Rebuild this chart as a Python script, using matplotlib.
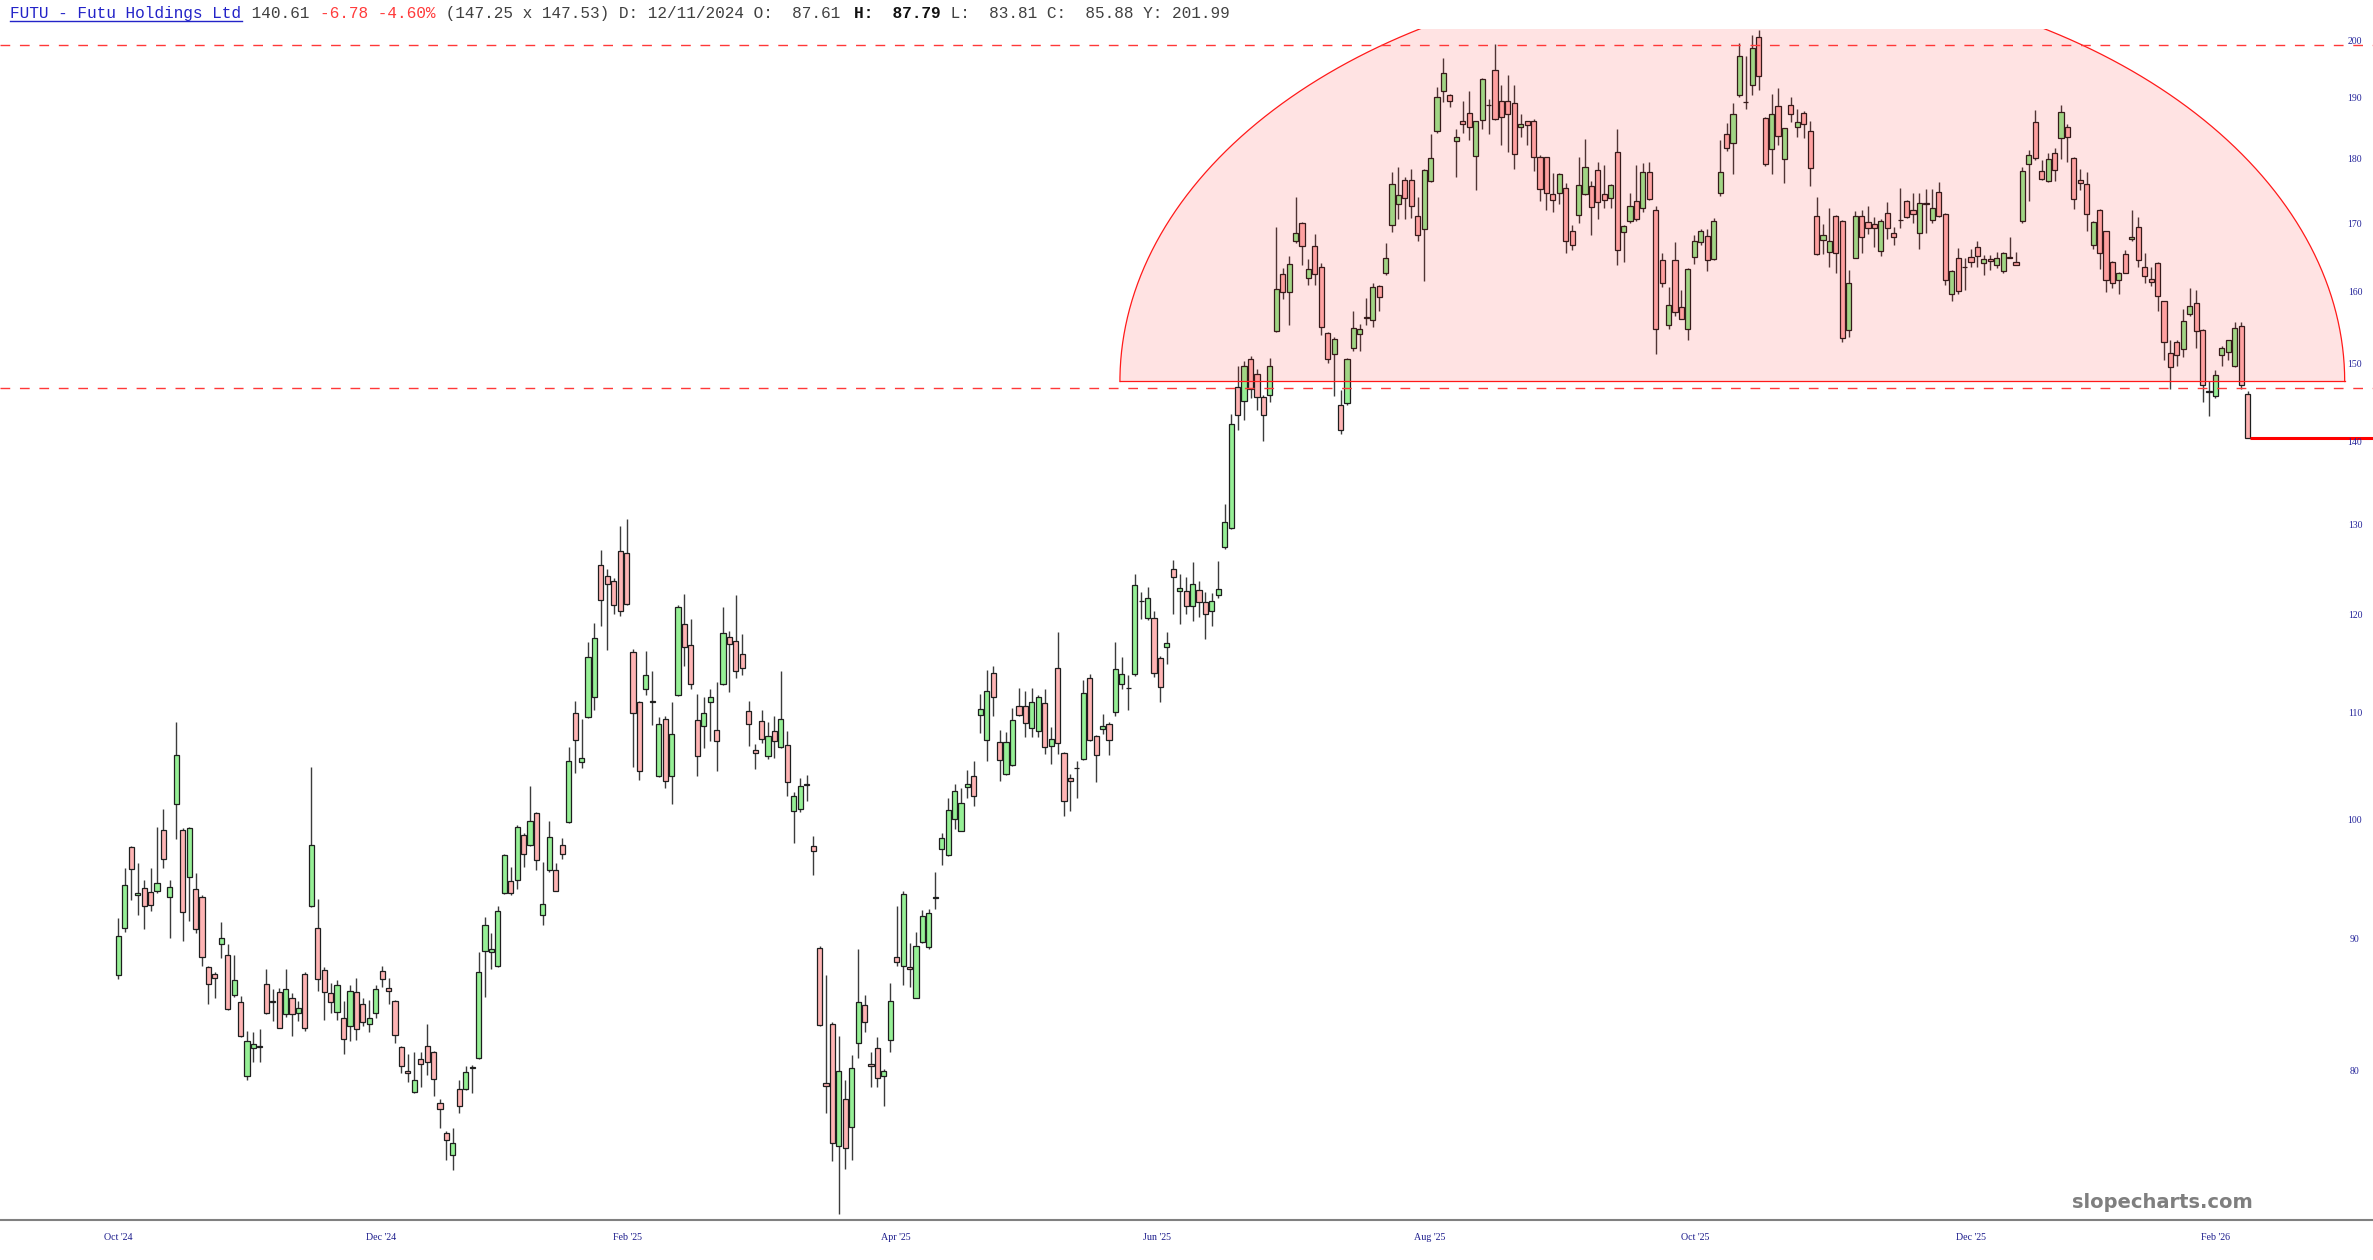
import numpy as np
import matplotlib
matplotlib.use("Agg")
import matplotlib.pyplot as plt
from matplotlib.transforms import blended_transform_factory
from matplotlib.lines import Line2D

# ---------------- data ----------------
opens = [
    87.2, 90.9, 97.7, 93.6, 94.2, 93.9, 94.0, 99.2, 93.5, 101.5,
    99.2, 95.1, 94.1, 93.5, 87.8, 87.3, 89.6, 88.8, 85.7, 85.1,
    79.7, 81.7, 81.9, 86.5, 85.2, 85.9, 84.2, 85.4, 84.3, 87.3,
    92.7, 90.9, 87.61, 85.8, 84.4, 83.9, 83.3, 85.9, 85.0, 83.5,
    84.3, 87.5, 86.2, 85.2, 81.8, 80.1, 78.6, 80.9, 81.9, 81.4,
    77.8, 75.8, 74.3, 78.8, 78.8, 80.3, 81.0, 89.1, 89.0, 87.9,
    93.8, 94.8, 94.9, 98.8, 97.9, 100.7, 92.0, 95.7, 95.7, 97.9,
    99.9, 110.1, 105.4, 109.7, 111.6, 125.5, 124.3, 123.8, 127.1, 126.9,
    116.2, 111.2, 112.4, 111.2, 104.1, 109.5, 104.1, 111.8, 119.1, 116.9,
    109.4, 108.8, 111.2, 108.4, 112.9, 117.8, 117.3, 116.0, 110.3, 106.5,
    109.3, 105.9, 108.3, 106.8, 107.0, 100.9, 101.1, 103.3, 97.8, 89.3,
    79.2, 83.5, 74.9, 78.1, 76.2, 82.1, 84.9, 80.6, 81.7, 79.7,
    82.3, 88.6, 87.9, 87.8, 85.4, 89.8, 89.4, 93.4, 97.5, 97.0,
    100.2, 99.1, 103.1, 104.1, 109.9, 107.5, 114.1, 107.3, 104.3, 105.1,
    110.8, 110.8, 108.6, 108.3, 111.1, 106.9, 114.6, 106.2, 103.9, 104.8,
    105.7, 113.6, 107.8, 108.5, 109.0, 110.2, 112.9, 112.5, 114.0, 121.6,
    119.8, 119.8, 115.6, 116.7, 125.1, 122.7, 122.7, 121.1, 122.8, 121.5,
    120.5, 122.2, 127.6, 129.7, 147.1, 145.2, 150.8, 148.8, 145.8, 146.0,
    154.6, 162.6, 160.0, 167.4, 170.1, 162.0, 166.7, 163.6, 154.3, 151.5,
    144.8, 145.0, 152.3, 154.2, 156.4, 156.1, 160.9, 162.7, 169.8, 173.0,
    176.8, 176.8, 171.2, 169.2, 176.6, 184.7, 191.4, 190.6, 183.0, 186.3,
    187.6, 180.6, 186.5, 189.0, 195.0, 189.6, 189.6, 189.3, 185.4, 186.3,
    186.4, 180.4, 180.4, 174.6, 174.7, 175.5, 168.9, 171.4, 174.6, 175.9,
    178.4, 174.6, 174.0, 181.2, 168.8, 170.4, 173.6, 172.5, 178.0, 172.1,
    164.6, 155.4, 164.7, 157.9, 154.9, 165.1, 167.3, 168.2, 164.8, 174.7,
    184.2, 182.7, 190.7, 189.5, 192.4, 200.7, 186.8, 181.8, 188.8, 180.2,
    189.0, 185.3, 187.7, 184.7, 171.3, 167.6, 165.9, 171.3, 170.4, 154.7,
    165.0, 171.3, 170.3, 170.0, 166.0, 171.7, 168.7, 170.6, 173.6, 172.1,
    168.6, 173.1, 170.6, 174.9, 171.6, 159.8, 165.0, 163.6, 165.1, 166.6,
    164.2, 164.8, 164.0, 163.1, 165.0, 164.4, 170.4, 179.3, 186.2, 178.2,
    176.6, 181.1, 183.6, 185.3, 180.3, 176.8, 176.2, 166.8, 172.2, 168.9,
    164.4, 161.7, 165.5, 167.7, 169.6, 163.7, 161.9, 164.2, 158.7, 151.6,
    153.1, 152.1, 156.9, 158.5, 154.7, 146.5, 145.9, 151.3, 151.7, 149.9,
    155.3, 146.2,
]
highs = [
    91.7, 95.9, 97.8, 96.3, 94.9, 95.9, 99.5, 101.1, 94.9, 109.2,
    99.4, 99.5, 95.5, 93.6, 87.9, 87.4, 91.4, 89.6, 88.8, 85.6,
    83.0, 82.9, 83.1, 87.7, 86.1, 86.2, 87.7, 85.8, 85.2, 87.4,
    104.9, 93.3, 87.79, 86.6, 86.8, 85.2, 86.4, 87.0, 85.4, 85.3,
    86.4, 87.9, 87.0, 85.3, 81.9, 81.3, 81.4, 81.4, 83.5, 81.5,
    78.1, 75.9, 76.1, 79.4, 80.4, 80.5, 89.0, 91.8, 90.5, 92.7,
    97.1, 96.0, 99.6, 98.9, 103.2, 100.8, 96.4, 100.0, 96.3, 98.5,
    106.8, 111.3, 109.5, 117.2, 119.2, 127.2, 125.1, 124.1, 130.0, 130.8,
    116.5, 111.3, 116.3, 114.3, 109.7, 109.8, 111.2, 121.2, 122.4, 119.7,
    111.9, 111.6, 112.4, 113.1, 120.9, 118.4, 122.3, 118.1, 111.3, 107.1,
    110.4, 109.2, 109.8, 114.3, 108.3, 102.6, 103.9, 104.2, 98.7, 89.5,
    87.2, 83.6, 82.6, 79.4, 81.2, 89.2, 85.7, 81.4, 82.5, 80.2,
    86.6, 92.7, 94.0, 89.7, 90.6, 92.4, 92.5, 95.6, 98.9, 102.1,
    103.3, 103.0, 104.6, 105.5, 111.9, 114.4, 114.8, 108.4, 108.2, 110.6,
    112.5, 112.2, 112.5, 111.8, 112.4, 108.7, 118.3, 106.3, 104.3, 105.5,
    113.3, 114.0, 107.9, 110.0, 109.2, 117.2, 115.7, 113.9, 124.5, 122.6,
    123.1, 120.5, 115.8, 118.3, 126.1, 124.5, 124.2, 125.9, 123.8, 122.6,
    122.5, 126.0, 132.5, 143.6, 149.8, 150.5, 151.2, 149.4, 146.0, 150.9,
    169.5, 163.5, 165.3, 174.2, 170.3, 164.8, 168.5, 164.2, 154.5, 153.7,
    146.7, 150.9, 157.4, 155.5, 159.2, 161.3, 161.1, 167.2, 178.1, 178.9,
    177.2, 178.5, 174.1, 178.5, 184.2, 192.1, 197.0, 190.9, 185.0, 189.6,
    191.3, 186.4, 193.5, 190.0, 199.5, 192.4, 194.1, 192.4, 187.4, 186.4,
    186.6, 180.8, 180.5, 177.9, 177.9, 176.3, 169.9, 180.4, 183.4, 176.7,
    179.7, 179.1, 176.2, 185.0, 169.8, 174.8, 179.2, 179.5, 179.7, 172.7,
    165.7, 160.8, 167.3, 160.3, 163.5, 168.4, 169.3, 169.2, 170.9, 183.2,
    186.0, 189.3, 199.7, 197.4, 201.2, 201.99, 187.0, 190.9, 191.9, 185.2,
    190.3, 188.3, 188.0, 186.4, 174.2, 170.0, 172.4, 171.4, 170.6, 163.2,
    172.0, 172.2, 172.7, 171.1, 170.8, 173.3, 169.5, 175.6, 173.7, 174.7,
    174.7, 175.4, 175.4, 176.5, 171.7, 163.2, 166.4, 165.0, 166.3, 167.5,
    165.4, 165.4, 165.9, 165.8, 168.0, 165.9, 178.9, 181.6, 188.1, 180.0,
    181.1, 181.9, 189.0, 185.9, 180.5, 178.5, 178.1, 170.4, 172.3, 169.0,
    164.5, 162.9, 166.1, 172.2, 171.1, 165.7, 163.6, 164.3, 158.8, 153.4,
    153.4, 157.7, 160.6, 160.3, 154.8, 147.9, 149.3, 152.6, 153.4, 155.8,
    155.8, 146.5,
]
lows = [
    86.9, 90.6, 93.2, 92.0, 90.8, 92.3, 93.8, 95.9, 90.1, 98.4,
    89.9, 91.5, 90.5, 87.9, 85.0, 85.4, 88.5, 84.5, 85.5, 82.5,
    79.4, 80.7, 80.7, 84.2, 83.7, 83.2, 84.0, 82.6, 83.7, 83.0,
    92.6, 86.0, 83.81, 84.3, 83.8, 81.3, 82.2, 82.3, 83.3, 82.9,
    83.9, 86.3, 85.0, 82.1, 79.9, 79.3, 78.5, 78.9, 79.8, 78.3,
    76.1, 74.0, 73.3, 77.1, 78.7, 78.5, 80.9, 85.5, 87.7, 87.8,
    93.7, 93.6, 94.1, 96.0, 97.8, 95.7, 91.2, 95.6, 94.0, 96.7,
    99.8, 104.4, 104.8, 109.6, 110.4, 118.9, 116.4, 120.2, 120.0, 121.2,
    104.9, 103.7, 111.8, 108.9, 104.0, 103.0, 101.5, 111.7, 114.8, 112.4,
    104.1, 106.7, 107.4, 104.5, 112.8, 112.1, 113.6, 113.9, 106.9, 104.7,
    107.2, 105.7, 105.8, 106.7, 102.2, 98.1, 100.8, 101.8, 95.3, 83.3,
    77.1, 73.9, 70.5, 73.4, 74.0, 81.0, 82.9, 78.9, 78.9, 77.6,
    81.4, 87.9, 86.4, 86.3, 85.4, 89.7, 89.2, 92.5, 96.2, 96.9,
    99.3, 99.1, 102.1, 101.3, 108.1, 105.5, 109.8, 103.6, 104.2, 105.0,
    109.8, 107.7, 107.7, 107.7, 106.1, 105.2, 106.1, 100.4, 100.9, 102.1,
    105.6, 107.4, 103.5, 108.0, 106.0, 109.8, 112.4, 110.4, 113.8, 119.7,
    119.6, 113.7, 111.2, 115.0, 120.2, 119.1, 120.2, 119.5, 119.9, 117.6,
    118.9, 121.9, 127.4, 129.6, 141.6, 142.8, 145.6, 144.1, 140.2, 145.1,
    154.5, 159.0, 155.4, 167.2, 164.0, 161.1, 161.0, 154.1, 150.3, 145.9,
    141.1, 144.7, 151.8, 151.8, 155.4, 155.2, 157.4, 162.5, 168.8, 170.8,
    170.8, 171.0, 167.5, 161.6, 176.5, 184.4, 189.5, 188.7, 177.2, 184.3,
    183.2, 175.3, 185.0, 184.1, 186.5, 182.4, 181.3, 178.6, 183.7, 182.4,
    178.2, 173.6, 172.2, 171.9, 173.0, 165.7, 166.2, 170.1, 174.5, 168.4,
    170.7, 172.4, 172.4, 164.0, 164.4, 170.1, 170.4, 171.9, 173.7, 151.5,
    160.7, 154.8, 156.6, 156.2, 153.4, 164.1, 166.9, 163.0, 164.7, 174.3,
    181.4, 177.7, 190.3, 188.3, 190.7, 191.6, 179.0, 177.7, 182.4, 176.3,
    186.2, 183.7, 183.5, 175.9, 165.4, 165.5, 163.6, 162.8, 153.1, 153.8,
    164.9, 165.7, 168.5, 166.6, 165.3, 167.8, 166.9, 169.4, 170.9, 170.2,
    166.3, 168.7, 170.2, 171.1, 161.0, 158.8, 159.8, 160.3, 163.6, 163.7,
    162.5, 163.2, 163.5, 162.8, 164.9, 163.9, 170.2, 173.6, 179.9, 176.8,
    176.5, 176.7, 180.2, 179.7, 172.3, 175.2, 169.0, 166.3, 163.4, 160.1,
    160.6, 159.7, 162.7, 167.4, 163.6, 161.3, 160.9, 157.4, 150.7, 146.8,
    149.9, 151.0, 156.6, 152.3, 145.1, 143.3, 145.6, 149.9, 150.7, 149.7,
    146.8, 140.5,
]
closes = [
    90.3, 94.5, 95.8, 93.8, 92.7, 92.8, 94.6, 96.7, 94.3, 106.0,
    92.2, 99.4, 90.8, 88.6, 86.5, 87.0, 90.1, 84.6, 86.8, 82.6,
    82.2, 82.0, 81.8, 84.3, 85.15, 83.2, 86.1, 84.2, 84.7, 83.2,
    97.9, 86.9, 85.88, 85.1, 86.4, 82.4, 86.0, 83.1, 83.6, 83.9,
    86.1, 86.9, 86.0, 82.7, 80.4, 79.9, 79.4, 80.6, 80.7, 79.5,
    77.4, 75.3, 75.1, 77.6, 80.0, 80.35, 87.4, 91.2, 89.2, 92.3,
    97.0, 93.8, 99.5, 97.1, 100.0, 96.6, 92.9, 98.6, 94.0, 97.1,
    105.5, 107.5, 105.8, 115.7, 117.7, 121.7, 123.5, 121.2, 120.5, 121.3,
    110.1, 104.5, 113.9, 111.3, 109.0, 103.6, 108.0, 120.9, 116.7, 112.9,
    105.9, 110.1, 111.6, 107.4, 118.2, 117.0, 114.3, 114.6, 109.0, 106.2,
    107.6, 107.8, 107.4, 109.5, 103.5, 102.2, 103.2, 103.25, 97.4, 83.4,
    79.0, 75.1, 80.1, 74.8, 80.3, 85.1, 83.6, 80.4, 79.6, 80.1,
    85.2, 88.2, 93.7, 87.7, 89.5, 91.9, 92.1, 93.5, 98.5, 101.0,
    102.7, 101.6, 103.3, 102.2, 110.5, 112.2, 111.6, 105.6, 107.3, 109.4,
    109.9, 109.1, 111.2, 111.6, 106.8, 107.6, 107.2, 101.8, 103.6, 104.85,
    112.0, 107.5, 106.0, 108.8, 107.5, 114.5, 114.0, 112.55, 123.3, 121.65,
    121.9, 114.1, 112.6, 117.1, 124.2, 123.0, 121.1, 123.4, 121.5, 120.2,
    121.6, 122.9, 130.4, 142.3, 143.4, 149.8, 146.8, 145.8, 143.4, 149.9,
    160.4, 160.1, 164.1, 168.6, 166.7, 163.4, 162.6, 155.1, 150.8, 153.5,
    141.6, 150.8, 155.0, 154.8, 156.5, 160.8, 159.3, 165.0, 176.2, 174.5,
    174.0, 172.7, 168.3, 178.4, 180.3, 190.4, 194.4, 189.7, 183.7, 185.9,
    185.4, 186.3, 193.4, 189.05, 186.7, 187.0, 187.4, 180.9, 185.9, 185.6,
    180.4, 175.4, 174.7, 173.7, 177.8, 167.5, 166.9, 176.0, 178.9, 172.6,
    173.4, 173.7, 176.0, 166.1, 169.7, 172.8, 170.8, 178.0, 173.8, 154.8,
    161.3, 158.2, 157.2, 156.3, 163.4, 167.5, 169.0, 164.6, 170.4, 178.1,
    181.9, 187.4, 197.4, 189.55, 198.8, 194.0, 179.3, 187.4, 183.9, 185.1,
    187.5, 186.2, 185.9, 178.7, 165.5, 168.3, 167.5, 165.7, 153.6, 161.3,
    171.3, 168.1, 169.4, 169.4, 170.5, 169.4, 168.1, 170.65, 171.1, 171.6,
    173.2, 173.15, 172.5, 171.2, 161.7, 163.1, 160.2, 163.65, 164.4, 165.2,
    164.8, 164.5, 164.9, 165.7, 165.1, 164.0, 178.2, 180.8, 180.3, 177.0,
    180.1, 178.4, 187.8, 183.7, 173.8, 176.3, 171.5, 170.3, 165.7, 161.7,
    161.3, 162.7, 162.8, 168.0, 164.6, 162.3, 161.4, 159.5, 153.1, 149.7,
    151.3, 155.9, 158.0, 154.6, 147.3, 146.4, 148.7, 152.3, 153.3, 155.0,
    147.39, 140.61,
]

month_labels = ["Oct '24", "Dec '24", "Feb '25", "Apr '25", "Jun '25",
                "Aug '25", "Oct '25", "Dec '25", "Feb '26"]
month_positions = [0.0, 40.8, 79.2, 120.9, 161.5, 203.9, 245.1, 288.0, 326.0]
price_ticks = [80, 90, 100, 110, 120, 130, 140, 150, 160, 170, 180, 190, 200]

resistance_level = 199.3      # upper dashed line
support_level = 146.9         # lower dashed line
last_price = 140.61
dome_left, dome_right = 155.7, 346.1   # bar positions where the dome meets its base
dome_base = 147.8
dome_top = 212.8

header_parts = [
    ("FUTU - Futu Holdings Ltd", "#2323c8", "normal"),
    (" 140.61 ", "#404040", "normal"),
    ("-6.78 -4.60%", "#ff3b3b", "normal"),
    (" (147.25 x 147.53) D: 12/11/2024 O:  87.61 ", "#404040", "normal"),
    ("H:  87.79", "#111111", "bold"),
    (" L:  83.81 C:  85.88 Y: 201.99", "#404040", "normal"),
]

# ---------------- figure ----------------
W, H = 2373, 1260
fig = plt.figure(figsize=(W / 100, H / 100), dpi=100)
fig.patch.set_facecolor("white")

ax_top_px, ax_bot_px = 29.0, 1219.7
ax = fig.add_axes([0.0, 1 - ax_bot_px / H, 1.0, (ax_bot_px - ax_top_px) / H])
ax.set_facecolor("white")
ax.set_yscale("log")
ax.set_ylim(70.15, 202.2)
ax.set_xlim(-18.4, 350.5)

o = np.array(opens); h = np.array(highs); l = np.array(lows); c = np.array(closes)
x = np.arange(len(o))
up = c >= o
body_lo = np.minimum(o, c)
body_h = np.maximum(np.abs(c - o), 0.04)
fill = np.where(up, "#96f096", "#ffb4b4")

ax.vlines(x, l, h, color="#3c3c3c", lw=1.0, zorder=2)
ax.bar(x, body_h, bottom=body_lo, width=0.8, color=fill, edgecolor="#1e1e1e",
       linewidth=0.9, zorder=3)

# dome (half ellipse in screen space)
t = np.linspace(0, np.pi, 600)
cx = (dome_left + dome_right) / 2
ax_half = (dome_right - dome_left) / 2
dx = cx + ax_half * np.cos(t)
dy = dome_base * np.exp(np.log(dome_top / dome_base) * np.sin(t))
ax.fill(dx, dy, facecolor=(1, 0, 0, 0.11), edgecolor="none", zorder=4)
ax.plot(dx, dy, color="#ff1a1a", lw=0.9, zorder=5)
ax.plot([dome_left, dome_right], [dome_base, dome_base], color="#ff1a1a", lw=0.9, zorder=5)

# dashed levels
for lvl in (resistance_level, support_level):
    ax.axhline(lvl, color="#ff3838", lw=1.0, dashes=(7, 7), zorder=5)

# last price line
ax.hlines(last_price, x[-1] + 0.4, 350.5, color="#ff0000", lw=2.2, zorder=6)

# axes cosmetics
for s in ("top", "left", "right"):
    ax.spines[s].set_visible(False)
ax.spines["bottom"].set_color("#808080")
ax.spines["bottom"].set_linewidth(1.5)
ax.tick_params(which="both", left=False, right=False, bottom=False,
               labelleft=False, labelbottom=False)

ytr = blended_transform_factory(ax.transAxes, ax.transData)
for p in price_ticks:
    ax.text(2355 / W, p, str(p), transform=ytr, ha="center", va="center",
            fontsize=7, family="Liberation Serif", color="#24249a", zorder=7)

xtr = blended_transform_factory(ax.transData, ax.transAxes)
lab_y = -(1238 - ax_bot_px) / (ax_bot_px - ax_top_px)
for lab, pos in zip(month_labels, month_positions):
    ax.text(pos, lab_y, lab, transform=xtr, ha="center", va="center",
            fontsize=7.2, family="Liberation Serif", color="#1c1c8c", clip_on=False)

# header
char_w = 9.7
x0 = 9.6
n_chars = 0
for txt, col, wt in header_parts:
    fig.text((x0 + n_chars * char_w) / W, 1 - 18 / H, txt, ha="left", va="baseline",
             fontsize=11.6, family="Liberation Mono", color=col, weight=wt)
    n_chars += len(txt)
name_len = len(header_parts[0][0])
fig.add_artist(Line2D([x0 / W, (x0 + name_len * char_w) / W], [1 - 21 / H, 1 - 21 / H],
                      color="#2323c8", lw=1.0))

# watermark
fig.text(2162 / W, 1 - 1203 / H, "slopecharts.com", ha="center", va="center",
         fontsize=14, weight="bold", family="DejaVu Sans", color="#7f7f7f")

fig.savefig("out.png", dpi=100, facecolor="white")
